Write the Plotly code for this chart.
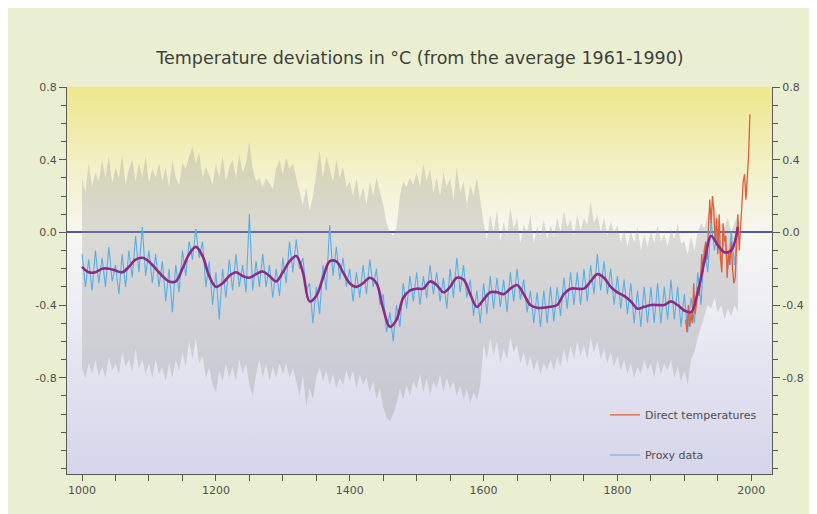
import base64
import plotly.graph_objects as go

# ---------------- data ----------------
years5 = list(range(1000, 1985, 5))

proxy_1000s = [-0.12, -0.30, -0.15, -0.32, -0.10, -0.28, -0.14, -0.30, -0.08, -0.27, -0.18, -0.34, -0.12, -0.30, -0.10, -0.25, -0.02, -0.22, 0.03, -0.24]
proxy_1100s = [-0.10, -0.28, -0.12, -0.30, -0.16, -0.38, -0.20, -0.44, -0.18, -0.33, -0.10, -0.24, -0.05, -0.15, 0.02, -0.14, -0.05, -0.30, -0.16, -0.40]
proxy_1200s = [-0.22, -0.48, -0.20, -0.36, -0.15, -0.32, -0.12, -0.30, -0.18, -0.33, 0.10, -0.32, -0.16, -0.30, -0.12, -0.30, -0.18, -0.36, -0.20, -0.35]
proxy_1300s = [-0.14, -0.28, -0.05, -0.22, -0.04, -0.20, -0.14, -0.32, -0.28, -0.50, -0.30, -0.45, -0.18, -0.32, 0.04, -0.24, -0.08, -0.26, -0.14, -0.30]
proxy_1400s = [-0.20, -0.38, -0.22, -0.36, -0.18, -0.34, -0.15, -0.30, -0.20, -0.40, -0.34, -0.55, -0.44, -0.60, -0.40, -0.52, -0.28, -0.42, -0.24, -0.38]
proxy_1500s = [-0.22, -0.40, -0.24, -0.36, -0.18, -0.34, -0.22, -0.38, -0.25, -0.42, -0.20, -0.36, -0.14, -0.33, -0.18, -0.36, -0.26, -0.46, -0.32, -0.50]
proxy_1600s = [-0.28, -0.45, -0.24, -0.42, -0.25, -0.41, -0.26, -0.44, -0.22, -0.38, -0.20, -0.37, -0.26, -0.44, -0.32, -0.50, -0.33, -0.52, -0.32, -0.50]
proxy_1700s = [-0.30, -0.49, -0.30, -0.46, -0.25, -0.42, -0.22, -0.40, -0.22, -0.40, -0.20, -0.38, -0.18, -0.34, -0.12, -0.32, -0.16, -0.34, -0.20, -0.40]
proxy_1800s = [-0.24, -0.42, -0.26, -0.45, -0.28, -0.50, -0.32, -0.52, -0.30, -0.50, -0.30, -0.50, -0.28, -0.50, -0.30, -0.48, -0.26, -0.48, -0.30, -0.52]
proxy_1900s = [-0.34, -0.55, -0.36, -0.50, -0.22, -0.40, -0.08, -0.22, 0.06, -0.10, 0.02, -0.16, -0.02, -0.20, 0.00, -0.18, 0.06]

hi_1000s = [0.30, 0.22, 0.38, 0.25, 0.33, 0.28, 0.40, 0.30, 0.42, 0.27, 0.36, 0.30, 0.43, 0.26, 0.35, 0.40, 0.28, 0.38, 0.30, 0.42]
hi_1100s = [0.27, 0.35, 0.30, 0.38, 0.28, 0.36, 0.25, 0.40, 0.30, 0.26, 0.38, 0.35, 0.42, 0.47, 0.38, 0.44, 0.30, 0.36, 0.32, 0.26]
hi_1200s = [0.38, 0.30, 0.42, 0.28, 0.36, 0.40, 0.30, 0.43, 0.33, 0.38, 0.50, 0.35, 0.28, 0.30, 0.25, 0.30, 0.27, 0.24, 0.35, 0.40]
hi_1300s = [0.32, 0.41, 0.35, 0.38, 0.30, 0.22, 0.15, 0.25, 0.12, 0.20, 0.32, 0.45, 0.30, 0.42, 0.35, 0.28, 0.40, 0.30, 0.36, 0.25]
hi_1400s = [0.28, 0.20, 0.30, 0.18, 0.25, 0.15, 0.28, 0.20, 0.30, 0.22, 0.15, 0.05, 0.00, -0.02, 0.03, 0.20, 0.28, 0.25, 0.30, 0.26]
hi_1500s = [0.33, 0.25, 0.38, 0.28, 0.35, 0.22, 0.30, 0.20, 0.33, 0.25, 0.30, 0.18, 0.36, 0.22, 0.28, 0.15, 0.26, 0.20, 0.30, 0.18]
hi_1600s = [0.05, -0.04, 0.10, 0.00, 0.12, -0.05, 0.06, -0.02, 0.14, 0.02, 0.08, -0.06, 0.04, 0.00, 0.10, -0.06, 0.03, -0.02, 0.07, -0.04]
hi_1700s = [0.04, -0.02, 0.08, 0.00, 0.12, 0.03, 0.07, -0.02, 0.10, 0.01, 0.08, 0.04, 0.17, 0.05, 0.10, 0.00, 0.08, -0.02, 0.06, 0.00]
hi_1800s = [0.04, -0.06, 0.02, -0.08, 0.01, -0.06, 0.03, -0.10, -0.01, -0.08, 0.01, -0.06, 0.04, -0.05, -0.01, -0.08, 0.02, -0.04, 0.05, -0.06]
hi_1900s = [-0.05, -0.12, -0.02, -0.10, 0.00, 0.05, 0.02, 0.10, 0.12, 0.15, 0.08, 0.05, 0.03, 0.08, 0.00, 0.05, 0.10]

lo_1000s = [-0.75, -0.80, -0.72, -0.78, -0.70, -0.79, -0.74, -0.80, -0.68, -0.76, -0.72, -0.78, -0.66, -0.74, -0.70, -0.77, -0.64, -0.75, -0.70, -0.78]
lo_1100s = [-0.72, -0.80, -0.70, -0.78, -0.74, -0.82, -0.72, -0.80, -0.70, -0.76, -0.66, -0.74, -0.60, -0.70, -0.58, -0.72, -0.68, -0.80, -0.74, -0.84]
lo_1200s = [-0.88, -0.76, -0.82, -0.72, -0.80, -0.74, -0.82, -0.70, -0.78, -0.72, -0.84, -0.90, -0.78, -0.70, -0.80, -0.72, -0.82, -0.74, -0.80, -0.72]
lo_1300s = [-0.78, -0.72, -0.80, -0.75, -0.82, -0.90, -0.78, -0.96, -0.86, -0.92, -0.80, -0.74, -0.82, -0.76, -0.84, -0.78, -0.86, -0.80, -0.84, -0.76]
lo_1400s = [-0.82, -0.76, -0.86, -0.78, -0.84, -0.80, -0.88, -0.82, -0.92, -0.86, -0.96, -1.02, -1.04, -1.00, -0.94, -0.86, -0.92, -0.84, -0.90, -0.82]
lo_1500s = [-0.86, -0.78, -0.88, -0.80, -0.90, -0.82, -0.86, -0.78, -0.88, -0.80, -0.86, -0.82, -0.90, -0.84, -0.92, -0.86, -0.94, -0.88, -0.92, -0.84]
lo_1600s = [-0.62, -0.70, -0.58, -0.68, -0.60, -0.72, -0.64, -0.70, -0.58, -0.66, -0.62, -0.72, -0.66, -0.74, -0.68, -0.76, -0.70, -0.78, -0.72, -0.76]
lo_1700s = [-0.70, -0.76, -0.68, -0.74, -0.64, -0.72, -0.62, -0.70, -0.60, -0.68, -0.62, -0.70, -0.58, -0.66, -0.60, -0.70, -0.64, -0.72, -0.66, -0.74]
lo_1800s = [-0.68, -0.76, -0.70, -0.78, -0.72, -0.80, -0.74, -0.78, -0.70, -0.76, -0.72, -0.80, -0.70, -0.78, -0.72, -0.76, -0.70, -0.80, -0.74, -0.82]
lo_1900s = [-0.76, -0.84, -0.70, -0.66, -0.58, -0.52, -0.46, -0.40, -0.42, -0.36, -0.44, -0.40, -0.48, -0.42, -0.46, -0.40, -0.44]

smooth_years = list(range(1000, 1990, 10))
smooth_1000s = [-0.19, -0.22, -0.22, -0.20, -0.20, -0.21, -0.22, -0.19, -0.15, -0.14]
smooth_1100s = [-0.16, -0.20, -0.24, -0.27, -0.27, -0.20, -0.12, -0.08, -0.13, -0.24]
smooth_1200s = [-0.30, -0.28, -0.24, -0.22, -0.24, -0.25, -0.23, -0.215, -0.24, -0.27]
smooth_1300s = [-0.22, -0.16, -0.13, -0.22, -0.38, -0.35, -0.25, -0.16, -0.16, -0.22]
smooth_1400s = [-0.28, -0.30, -0.28, -0.25, -0.28, -0.42, -0.52, -0.48, -0.36, -0.32]
smooth_1500s = [-0.31, -0.31, -0.27, -0.29, -0.33, -0.30, -0.25, -0.26, -0.34, -0.41]
smooth_1600s = [-0.37, -0.33, -0.33, -0.34, -0.31, -0.29, -0.34, -0.40, -0.415, -0.415]
smooth_1700s = [-0.41, -0.40, -0.34, -0.31, -0.31, -0.31, -0.27, -0.23, -0.25, -0.30]
smooth_1800s = [-0.33, -0.35, -0.38, -0.42, -0.41, -0.40, -0.40, -0.40, -0.38, -0.40]
smooth_1900s = [-0.43, -0.44, -0.33, -0.16, -0.02, -0.07, -0.11, -0.10, 0.03]

direct_years = list(range(1902, 2000, 2))
direct = [-0.48, -0.55, -0.40, -0.52, -0.45, -0.50, -0.28, -0.45, -0.40, -0.30,
          -0.35, -0.28, -0.12, -0.22, -0.10, -0.05, -0.15, 0.05, 0.18, 0.05,
          0.20, 0.12, -0.05, 0.08, -0.12, 0.10, -0.15, -0.22, 0.05, -0.05,
          -0.02, -0.25, -0.10, -0.18, -0.05, -0.20, -0.28, -0.25, -0.05, 0.10,
          -0.10, 0.02, 0.12, 0.28, 0.32, 0.18, 0.30, 0.42, 0.65]

x_tick_vals = [1000, 1200, 1400, 1600, 1800, 2000]
x_tick_text = ["1000", "1200", "1400", "1600", "1800", "2000"]
y_tick_vals = [0.8, 0.4, 0.0, -0.4, -0.8]
y_tick_text = ["0.8", "0.4", "0.0", "-0.4", "-0.8"]

title_text = "Temperature deviations in °C (from the average 1961-1990)"

proxy = (proxy_1000s + proxy_1100s + proxy_1200s + proxy_1300s + proxy_1400s +
         proxy_1500s + proxy_1600s + proxy_1700s + proxy_1800s + proxy_1900s)
band_hi = (hi_1000s + hi_1100s + hi_1200s + hi_1300s + hi_1400s +
           hi_1500s + hi_1600s + hi_1700s + hi_1800s + hi_1900s)
band_lo = (lo_1000s + lo_1100s + lo_1200s + lo_1300s + lo_1400s +
           lo_1500s + lo_1600s + lo_1700s + lo_1800s + lo_1900s)
smooth = (smooth_1000s + smooth_1100s + smooth_1200s + smooth_1300s + smooth_1400s +
          smooth_1500s + smooth_1600s + smooth_1700s + smooth_1800s + smooth_1900s)

# ---------------- styling ----------------
FONT = "DejaVu Sans, sans-serif"
AXIS_COL = "#5a5a5a"
TEXT_COL = "#4f4f4f"

svg = (
    "<svg xmlns='http://www.w3.org/2000/svg' width='10' height='100' viewBox='0 0 10 100' "
    "preserveAspectRatio='none'><defs><linearGradient id='g' x1='0' y1='0' x2='0' y2='1'>"
    "<stop offset='0' stop-color='#eee88c'/>"
    "<stop offset='0.08' stop-color='#f0eaa2'/>"
    "<stop offset='0.22' stop-color='#f3f1cb'/>"
    "<stop offset='0.38' stop-color='#f7f7f1'/>"
    "<stop offset='0.55' stop-color='#eeeef4'/>"
    "<stop offset='0.78' stop-color='#e0e0ef'/>"
    "<stop offset='1' stop-color='#d6d6eb'/>"
    "</linearGradient></defs><rect width='10' height='100' fill='url(#g)'/></svg>"
)
bg_src = "data:image/svg+xml;base64," + base64.b64encode(svg.encode()).decode()

fig = go.Figure()

fig.add_trace(go.Scatter(x=years5, y=band_lo, mode="lines", line=dict(width=0, color="rgba(0,0,0,0)"),
                         showlegend=False, hoverinfo="skip"))
fig.add_trace(go.Scatter(x=years5, y=band_hi, mode="lines", line=dict(width=0, color="rgba(0,0,0,0)"),
                         fill="tonexty", fillcolor="rgba(150,150,150,0.30)",
                         showlegend=False, hoverinfo="skip"))
fig.add_trace(go.Scatter(x=years5, y=proxy, mode="lines", name="Proxy data",
                         line=dict(color="#5aaee6", width=1.1),
                         legendgroup="b", legendrank=2))
fig.add_trace(go.Scatter(x=direct_years, y=direct, mode="lines", name="Direct temperatures",
                         line=dict(color="#de5f3a", width=1.3),
                         legendgroup="a", legendrank=1))
fig.add_trace(go.Scatter(x=smooth_years, y=smooth, mode="lines", line_shape="spline",
                         line=dict(color="#8c2b86", width=2.6),
                         showlegend=False, yaxis="y2"))

tick_font = dict(family=FONT, size=11, color=TEXT_COL)

yaxis_common = dict(
    range=[-1.33, 0.8], tickvals=y_tick_vals, ticktext=y_tick_text,
    showgrid=False, showline=True, linecolor=AXIS_COL, linewidth=1,
    ticks="outside", ticklen=7, tickcolor=AXIS_COL, tickwidth=1,
    minor=dict(dtick=0.1, tick0=0, ticks="outside", ticklen=5, tickcolor=AXIS_COL, tickwidth=1),
    tickfont=tick_font,
)

W, H = 809, 506  # page body margin of 8 px is outside the figure
fig.update_layout(
    width=W, height=H,
    margin=dict(l=59, r=45, t=79, b=40),
    paper_bgcolor="#ebefd2",
    plot_bgcolor="rgba(0,0,0,0)",
    title=dict(text=title_text, x=412 / W, xanchor="center", y=1 - 50 / H, yanchor="middle",
               font=dict(family=FONT, size=17.5, color="#3e3e3e")),
    xaxis=dict(range=[977.5, 2031], tickvals=x_tick_vals, ticktext=x_tick_text,
               showgrid=False, zeroline=False, showline=True, linecolor=AXIS_COL, linewidth=1,
               ticks="outside", ticklen=6, tickcolor=AXIS_COL,
               minor=dict(dtick=50, tick0=1000, ticks="outside", ticklen=6, tickcolor=AXIS_COL),
               tickfont=tick_font),
    yaxis=dict(**yaxis_common, side="left", zeroline=True, zerolinecolor="#5656a6", zerolinewidth=2),
    yaxis2=dict(**yaxis_common, side="right", overlaying="y", matches="y", zeroline=False),
    legend=dict(x=0.763, xanchor="left", y=0.19, yanchor="top",
                bgcolor="rgba(0,0,0,0)", tracegroupgap=21,
                font=dict(family=FONT, size=11, color=TEXT_COL)),
    images=[dict(source=bg_src, xref="paper", yref="paper", x=0, y=1, sizex=1, sizey=1,
                 xanchor="left", yanchor="top", sizing="stretch", layer="below")],
)

fig.write_html("out.html")
